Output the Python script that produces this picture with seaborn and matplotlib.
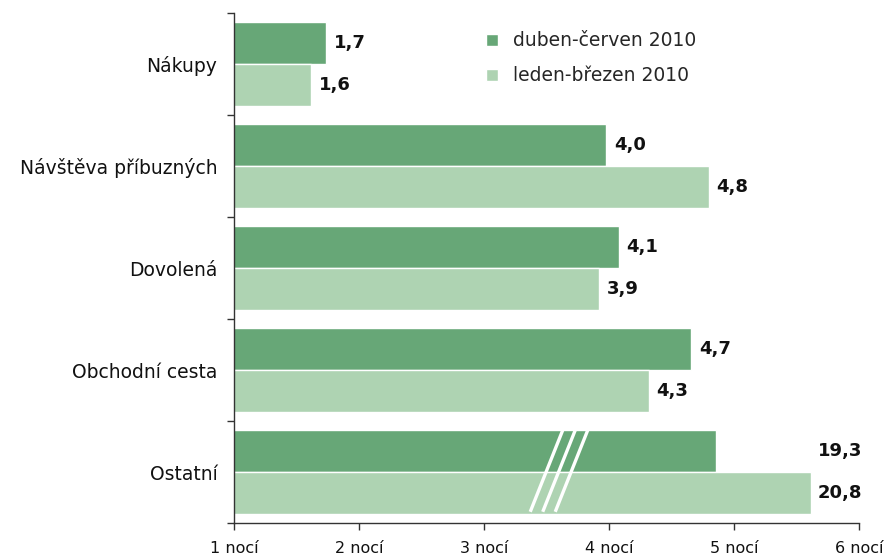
import numpy as np
import pandas as pd
import matplotlib
matplotlib.use("Agg")
import matplotlib.pyplot as plt
import seaborn as sns

# --- Datos ---
categories = ["Nákupy", "Návštěva příbuzných", "Dovolená", "Obchodní cesta", "Ostatní"]
series = ["duben-červen 2010", "leden-březen 2010"]
q2_values = [1.74, 3.98, 4.08, 4.66, 19.3]
q1_values = [1.62, 4.8, 3.92, 4.32, 20.8]
# Ostatní se kreslí zkrácené (přerušená osa)
q2_drawn = [1.74, 3.98, 4.08, 4.66, 4.86]
q1_drawn = [1.62, 4.8, 3.92, 4.32, 5.62]
q2_labels = ["1,7", "4,0", "4,1", "4,7", "19,3"]
q1_labels = ["1,6", "4,8", "3,9", "4,3", "20,8"]
x_ticks = [1, 2, 3, 4, 5, 6]
x_tick_labels = ["1 nocí", "2 nocí", "3 nocí", "4 nocí", "5 nocí", "6 nocí"]

colors = ["#67a777", "#aed3b2"]

df = pd.DataFrame({
    "kategorie": categories * 2,
    "obdobi": [series[0]] * 5 + [series[1]] * 5,
    "hodnota": q2_drawn + q1_drawn,
})

sns.set_theme(style="white")
plt.rcParams["font.family"] = ["DejaVu Sans"]

fig = plt.figure(figsize=(8.88, 5.57), dpi=100)
ax = fig.add_axes([0.2635, 0.061, 0.7038, 0.9155])

sns.barplot(data=df, y="kategorie", x="hodnota", hue="obdobi", orient="h",
            order=categories, hue_order=series, palette=colors, width=0.82,
            edgecolor="white", linewidth=1, saturation=1, ax=ax)

ax.set_xlim(1, 6)
ax.set_ylim(len(categories) - 0.5, -0.5)
ax.set_xticks(x_ticks)
ax.set_xticklabels(x_tick_labels, fontsize=11.5, color="#111111")
ax.set_yticks(range(len(categories)))
ax.set_yticklabels(categories, fontsize=13.5, color="#111111")
ax.set_yticks(np.arange(-0.5, len(categories)), minor=True)
ax.tick_params(axis="y", which="major", length=0, pad=12)
ax.tick_params(axis="y", which="minor", length=5, width=1, color="#333333", direction="out", left=True)
ax.tick_params(axis="x", length=5, width=1, color="#333333", direction="out", bottom=True, pad=8)
ax.set_xlabel("")
ax.set_ylabel("")
for s in ["top", "right"]:
    ax.spines[s].set_visible(False)
for s in ["left", "bottom"]:
    ax.spines[s].set_color("#333333")
    ax.spines[s].set_linewidth(1)

# Popisky hodnot
off = 0.205
lbl = dict(va="center", ha="left", fontsize=13, fontweight="bold", color="#111111")
for i in range(len(categories)):
    if i == len(categories) - 1:
        ax.text(5.67, i - off, q2_labels[i], **lbl)
        ax.text(5.67, i + off, q1_labels[i], **lbl)
    else:
        ax.text(q2_drawn[i] + 0.06, i - off, q2_labels[i], **lbl)
        ax.text(q1_drawn[i] + 0.06, i + off, q1_labels[i], **lbl)

# Značka přerušení u Ostatní
i = len(categories) - 1
for dx in [0, 0.1, 0.2]:
    ax.plot([3.37 + dx, 3.63 + dx], [i + 0.39, i - 0.41], color="white", lw=2.4, solid_capstyle="butt")

# Legenda
ax.legend(loc="upper left", bbox_to_anchor=(0.377, 0.997), frameon=False, fontsize=13.5,
          handlelength=0.6, handleheight=0.6, handletextpad=0.8, labelspacing=0.85)

fig.savefig("out.png", dpi=100)
